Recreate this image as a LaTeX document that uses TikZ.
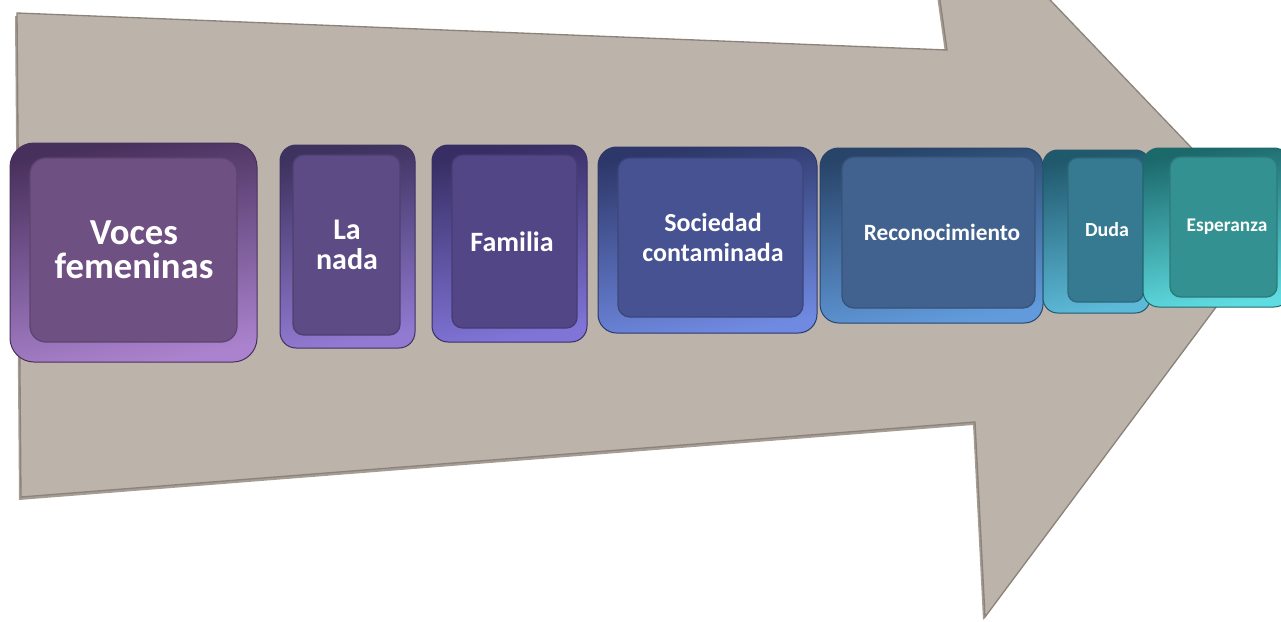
\documentclass[tikz,border=0pt]{standalone}
\usepackage{fontspec}
\setmainfont{Carlito}

\definecolor{arrowfill}{RGB}{188,179,170}
\definecolor{arrowedge}{RGB}{140,131,122}
\definecolor{arrowside}{RGB}{165,156,147}
% faces, light and dark bevels of the boxes
\definecolor{vocF}{RGB}{111,80,131}  \definecolor{vocL}{RGB}{170,130,205} \definecolor{vocD}{RGB}{72,48,92}
\definecolor{nadF}{RGB}{92,75,132}   \definecolor{nadL}{RGB}{145,122,210} \definecolor{nadD}{RGB}{62,50,95}
\definecolor{famF}{RGB}{82,70,135}   \definecolor{famL}{RGB}{128,116,215} \definecolor{famD}{RGB}{55,46,100}
\definecolor{socF}{RGB}{70,82,145}   \definecolor{socL}{RGB}{112,138,225} \definecolor{socD}{RGB}{45,55,105}
\definecolor{recF}{RGB}{65,98,142}   \definecolor{recL}{RGB}{98,155,220}  \definecolor{recD}{RGB}{40,68,105}
\definecolor{dudF}{RGB}{54,122,145}  \definecolor{dudL}{RGB}{92,185,215}  \definecolor{dudD}{RGB}{32,88,108}
\definecolor{espF}{RGB}{52,145,145}  \definecolor{espL}{RGB}{95,220,225}  \definecolor{espD}{RGB}{28,105,108}

\tikzset{every picture/.style={line width=0.75pt}}
\tikzset{
  bevel/.style n args={3}{draw=#3, top color=#3, middle color=#1, bottom color=#2, shading angle=10},
  face/.style={draw=#1!85!black, fill=#1, line width=1pt},
  label/.style={color=white, font=\bfseries, align=center, inner sep=0.75pt}
}

\begin{document}
\begin{tikzpicture}[x=0.75pt,y=0.75pt,yscale=-1,xscale=1]
\useasboundingbox (0,0) rectangle (1281,621);
\clip (0,0) rectangle (1281,621);

%Shape: Arrow side (shadow)
\fill [arrowside] (15,16) -- (945,53) -- (919,-132) -- (1270,235) -- (983,620) -- (973,425) -- (19,500) -- cycle ;
%Shape: Arrow
\draw [draw=arrowedge, fill=arrowfill, line width=1pt] (17,13) -- (947,50) -- (921,-135) -- (1272,232) -- (985,617) -- (975,422) -- (21,497) -- cycle ;

%Rounded Rect: Voces femeninas
\draw [bevel={vocF}{vocL}{vocD}, rounded corners=18] (10,143) rectangle (257,362) ;
\draw [face=vocF, rounded corners=12] (30,158) rectangle (237,342) ;
%Rounded Rect: La nada
\draw [bevel={nadF}{nadL}{nadD}, rounded corners=12] (280,145) rectangle (415,348) ;
\draw [face=nadF, rounded corners=8] (293,155) rectangle (400,335) ;
%Rounded Rect: Familia
\draw [bevel={famF}{famL}{famD}, rounded corners=12] (432,145) rectangle (587,342) ;
\draw [face=famF, rounded corners=8] (452,155) rectangle (577,328) ;
%Rounded Rect: Sociedad contaminada
\draw [bevel={socF}{socL}{socD}, rounded corners=14] (598,147) rectangle (817,333) ;
\draw [face=socF, rounded corners=9] (618,158) rectangle (803,317) ;
%Rounded Rect: Reconocimiento
\draw [bevel={recF}{recL}{recD}, rounded corners=14] (820,148) rectangle (1043,323) ;
\draw [face=recF, rounded corners=9] (842,157) rectangle (1035,308) ;
%Rounded Rect: Duda
\draw [bevel={dudF}{dudL}{dudD}, rounded corners=11] (1043,150) rectangle (1150,313) ;
\draw [face=dudF, rounded corners=7] (1068,158) rectangle (1143,302) ;
%Rounded Rect: Esperanza
\draw [bevel={espF}{espL}{espD}, rounded corners=12] (1143,148) rectangle (1290,307) ;
\draw [face=espF, rounded corners=8] (1170,157) rectangle (1277,297) ;

% Text Node
\draw (134,250) node [label, font=\bfseries\fontsize{27.5}{25.5}\selectfont] (voces) {Voces\\femeninas};
% Text Node
\draw (347,245) node [label, font=\bfseries\fontsize{22.5}{22.5}\selectfont] (nada) {La\\nada};
% Text Node
\draw (512,242) node [label, font=\bfseries\fontsize{21}{22}\selectfont] (familia) {Familia};
% Text Node
\draw (713,237) node [label, font=\bfseries\fontsize{19.5}{22.5}\selectfont] (sociedad) {Sociedad\\contaminada};
% Text Node
\draw (942,232) node [label, font=\bfseries\fontsize{17.5}{20}\selectfont] (reconoc) {Reconocimiento};
% Text Node
\draw (1107,230) node [label, font=\bfseries\fontsize{15}{18}\selectfont] (duda) {Duda};
% Text Node
\draw (1227,227) node [label, font=\bfseries\fontsize{14.5}{18}\selectfont] (esperanza) {Esperanza};

\end{tikzpicture}
\end{document}
